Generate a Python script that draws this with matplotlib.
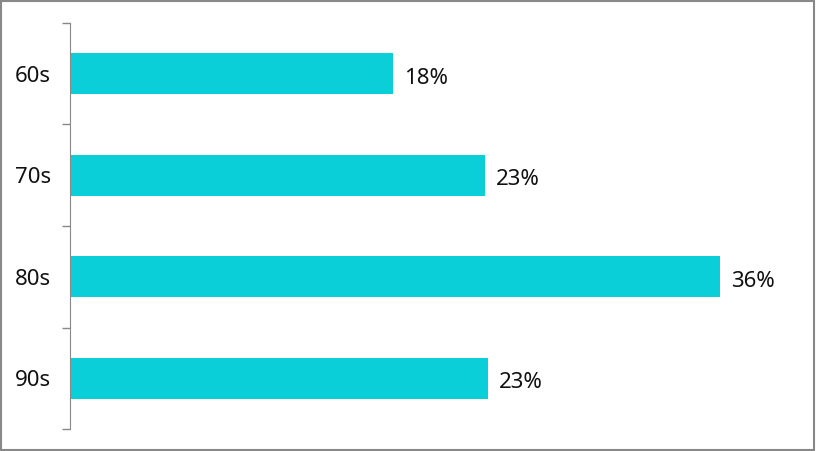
import matplotlib.pyplot as plt
from matplotlib.patches import Rectangle

# decades and share of each
decades = ['60s', '70s', '80s', '90s']
shares = [17.9, 23.0, 36.0, 23.15]
labels = ['18%', '23%', '36%', '23%']

plt.rcParams['font.family'] = ['Noto Sans', 'DejaVu Sans']

fig = plt.figure(figsize=(8.16, 4.51), dpi=100)
ax = fig.add_axes([70 / 816, 1 - 429 / 451, 722 / 816, 406 / 451])

pos = list(range(len(decades)))
ax.barh(pos, shares, height=0.4, color='#0ACFD8')
for y, v, lab in zip(pos, shares, labels):
    ax.text(v + 0.6, y + 0.02, lab, va='center_baseline', ha='left', fontsize=16, color='#111111')

ax.set_xlim(0, 40)
ax.set_ylim(3.5, -0.5)
ax.set_xticks([])

# tick marks between categories, labels at centres
ax.set_yticks([-0.5, 0.5, 1.5, 2.5, 3.5])
ax.set_yticklabels([])
ax.set_yticks(pos, minor=True)
ax.set_yticklabels(decades, minor=True, fontsize=16, color='#111111', va='center_baseline')
ax.tick_params(axis='y', which='major', length=6, color='#888888', width=1)
ax.tick_params(axis='y', which='minor', length=0, pad=13.5)

for s in ['top', 'right', 'bottom']:
    ax.spines[s].set_visible(False)
ax.spines['left'].set_color('#888888')

# outer border
fig.patches.append(Rectangle((0.001, 0.002), 0.997, 0.996, transform=fig.transFigure,
                             fill=False, edgecolor='#888888', linewidth=1.5))

fig.savefig('out.png', dpi=100)
